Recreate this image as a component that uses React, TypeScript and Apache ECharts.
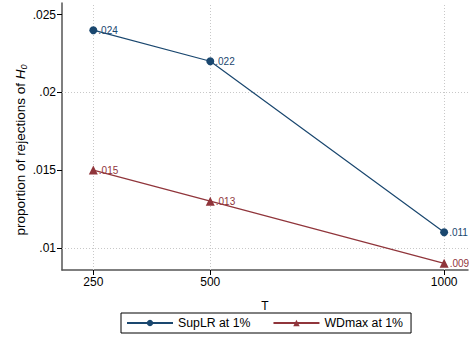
import React, { useEffect, useRef } from "react";
import * as echarts from "echarts";

const sampleSizes = [250, 500, 1000];
const supLR = [0.024, 0.022, 0.011];
const wdMax = [0.015, 0.013, 0.009];
const yTicks = [0.01, 0.015, 0.02, 0.025];
const seriesNames = ["SupLR at 1%", "WDmax at 1%"];
const yTitle = "proportion of rejections of {i|H}{s|0}";

const BLUE = "#1a476f";
const RED = "#90353b";
const FONT = "Liberation Sans";

const fmt = (v: number) => {
  const s = String(Number(v.toFixed(4)));
  return s.startsWith("0") ? s.slice(1) : s;
};

export default function App() {
  const ref = useRef<HTMLDivElement>(null);

  useEffect(() => {
    if (!ref.current) return;
    const chart = echarts.init(ref.current, undefined, { renderer: "svg" });

    const pointLabel = (color: string) => ({
      show: true,
      position: "right" as const,
      distance: 1,
      color,
      fontFamily: FONT,
      fontSize: 10,
      formatter: (p: any) => fmt(p.value[1]),
    });

    chart.setOption({
      animation: false,
      backgroundColor: "#ffffff",
      textStyle: { fontFamily: FONT },
      grid: { left: 62, right: 2, top: 3, bottom: 68 },
      graphic: [
        {
          type: "text",
          x: 20,
          y: 150,
          rotation: Math.PI / 2,
          silent: true,
          style: {
            text: yTitle,
            fontSize: 13.5,
            fontFamily: FONT,
            fill: "#000",
            align: "center",
            verticalAlign: "middle",
            rich: {
              i: { fontStyle: "italic", fontSize: 13.5, fontFamily: FONT, fill: "#000" },
              s: { fontStyle: "italic", fontSize: 9, fontFamily: FONT, fill: "#000", padding: [7, 0, 0, 0] },
            },
          },
        },
      ],
      xAxis: {
        type: "value",
        min: 183,
        max: 1051,
        name: "T",
        nameLocation: "middle",
        nameGap: 30,
        nameTextStyle: { color: "#000", fontSize: 12, fontFamily: FONT },
        axisLine: { show: true, lineStyle: { color: "#555", width: 1.5 } },
        axisTick: { show: true, length: 5, customValues: sampleSizes, lineStyle: { color: "#000", width: 1 } },
        axisLabel: {
          customValues: sampleSizes,
          color: "#000",
          fontSize: 12,
          margin: 6,
          fontFamily: FONT,
          formatter: (v: number) => String(v),
        },
        splitLine: { show: false },
      },
      yAxis: {
        type: "value",
        min: 0.00857,
        max: 0.02575,
        axisLine: { show: true, lineStyle: { color: "#555", width: 1.5 } },
        axisTick: { show: true, length: 5, customValues: yTicks, lineStyle: { color: "#000", width: 1 } },
        axisLabel: {
          customValues: yTicks,
          color: "#000",
          fontSize: 12,
          margin: 6,
          fontFamily: FONT,
          formatter: (v: number) => fmt(v),
        },
        splitLine: { show: false },
      },
      legend: {
        data: seriesNames,
        left: 121,
        top: 313,
        orient: "horizontal",
        borderColor: "#000",
        borderWidth: 1,
        padding: [4, 8, 4, 5],
        itemWidth: 46,
        itemHeight: 8,
        itemGap: 22,
        textStyle: { color: "#000", fontSize: 12.3, fontFamily: FONT },
      },
      series: [
        {
          name: "grid",
          type: "line",
          data: [],
          silent: true,
          z: 0,
          markLine: {
            silent: true,
            symbol: "none",
            label: { show: false },
            lineStyle: { color: "#c8c8c8", type: [1, 2], width: 1 },
            data: [
              ...sampleSizes.map((x) => ({ xAxis: x })),
              ...yTicks.map((y) => ({ yAxis: y })),
            ],
          },
        },
        {
          name: seriesNames[0],
          type: "line",
          z: 5,
          data: sampleSizes.map((x, i) => [x, supLR[i]]),
          symbol: "circle",
          symbolSize: 8,
          color: BLUE,
          lineStyle: { color: BLUE, width: 1.2 },
          itemStyle: { color: BLUE, borderWidth: 0 },
          label: pointLabel(BLUE),
        },
        {
          name: seriesNames[1],
          type: "line",
          z: 5,
          data: sampleSizes.map((x, i) => [x, wdMax[i]]),
          symbol: "triangle",
          symbolSize: 9,
          color: RED,
          lineStyle: { color: RED, width: 1.2 },
          itemStyle: { color: RED, borderWidth: 0 },
          label: pointLabel(RED),
        },
      ],
    });

    return () => chart.dispose();
  }, []);

  return <div ref={ref} style={{ width: 470, height: 338, position: "absolute", left: 0, top: 0 }} />;
}
